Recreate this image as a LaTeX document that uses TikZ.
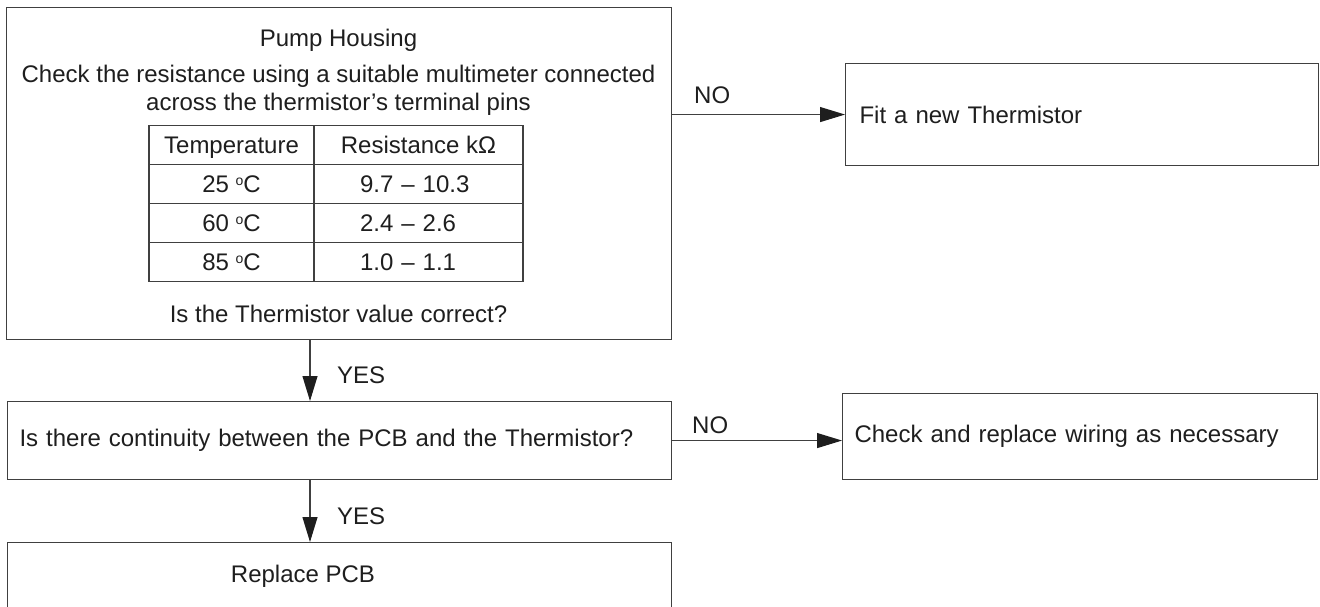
\documentclass[tikz,border=0pt]{standalone}
\usepackage{fontspec}
\setmainfont{Liberation Sans}
\usetikzlibrary{arrows.meta}
\definecolor{linegray}{RGB}{64,64,64}
\definecolor{inkgray}{RGB}{30,30,30}
\newcommand{\bodyfont}{\fontsize{24}{28}\selectfont}
\newcommand{\degc}{\raisebox{7pt}{\fontsize{14}{14}\selectfont o}C}
\tikzset{
  stepbox/.style={draw=linegray,line width=1.1pt,inner sep=0pt,anchor=north west,
    font=\bodyfont,text=inkgray},
  cell/.style={draw=linegray,line width=1.1pt,inner sep=0pt,minimum height=39pt,
    text height=17pt,text depth=0pt,font=\bodyfont,text=inkgray},
  flow/.style={-{Triangle[length=25pt,width=15pt,color=inkgray]},line width=1.1pt,linegray},
  branchlabel/.style={anchor=west,font=\bodyfont,text=inkgray,inner sep=0pt},
  note/.style={font=\bodyfont,text=inkgray,align=center,inner sep=0pt}
}

\begin{document}
\begin{tikzpicture}[x=1pt,y=-1pt]
  \useasboundingbox (0,0) rectangle (1320,607);
  \clip (0,0) rectangle (1320,607);

  % first test: thermistor resistance
  \node[stepbox,minimum width=665pt,minimum height=332pt] (housing) at (6,7) {};
  \node[note] (title) at (338.5,40) {Pump Housing};
  \node[note] (howto) at (338.5,90) {Check the resistance using a suitable multimeter connected\\across the thermistor’s terminal pins};
  \node[note] (question) at (338.5,314) {Is the Thermistor value correct?};

  \node[cell,minimum width=165pt] (thead) at (231.5,145) {Temperature};
  \node[cell,minimum width=209pt] (rhead) at (418.5,145) {Resistance kΩ};
  \node[cell,minimum width=165pt] (t25) at (231.5,184) {25 \degc};
  \node[cell,text width=117pt,inner xsep=46pt,align=left] (r25) at (418.5,184) {9.7 – 10.3};
  \node[cell,minimum width=165pt] (t60) at (231.5,223) {60 \degc};
  \node[cell,text width=117pt,inner xsep=46pt,align=left] (r60) at (418.5,223) {2.4 – 2.6};
  \node[cell,minimum width=165pt] (t85) at (231.5,262) {85 \degc};
  \node[cell,text width=117pt,inner xsep=46pt,align=left] (r85) at (418.5,262) {1.0 – 1.1};

  \node[stepbox,minimum width=473pt,minimum height=102pt,text width=445pt,inner xsep=14pt,
    align=left] (fit) at (845,63) {Fit a new Thermistor};

  % second test: wiring
  \node[stepbox,minimum width=664pt,minimum height=78pt,text width=640pt,inner xsep=12pt,
    align=left] (check) at (7,401) {Is there continuity between the PCB and the Thermistor?};
  \node[stepbox,minimum width=475pt,minimum height=86pt,text width=451pt,inner xsep=12pt,
    align=left] (wiring) at (842,393) {Check and replace wiring as necessary};

  \node[stepbox,minimum width=664pt,minimum height=70pt] (replace) at (7,542) {};
  \node[note] (replacetext) at (303,576) {Replace PCB};

  \coordinate (spine) at (310,0);
  \draw[flow] (housing.south -| spine) -- (check.north -| spine);
  \draw[flow] (check.south -| spine) -- (replace.north -| spine);
  \draw[flow] (fit.west -| housing.east) -- (fit.west);
  \draw[flow] (check.east) -- (check.east -| wiring.west);

  \node[branchlabel] (yes1) at (337,375) {YES};
  \node[branchlabel] (yes2) at (337,516) {YES};
  \node[branchlabel] (no1) at (694,95) {NO};
  \node[branchlabel] (no2) at (692,425) {NO};
\end{tikzpicture}
\end{document}
